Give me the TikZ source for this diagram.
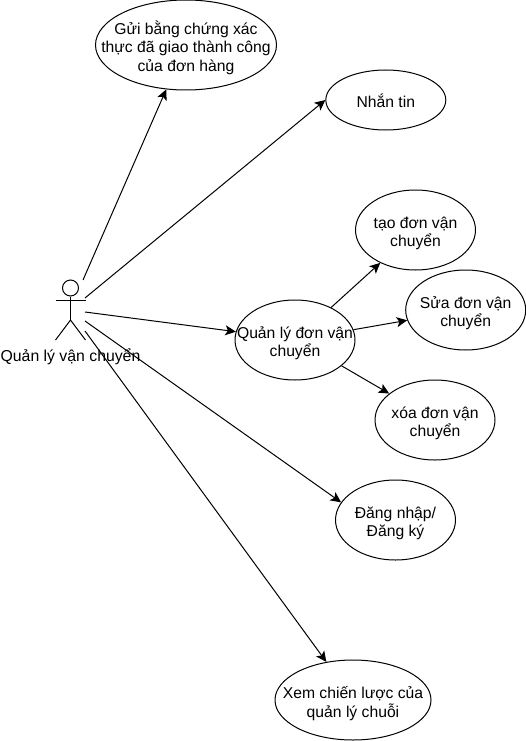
\documentclass[tikz,border=0pt]{standalone}
\usepackage{fontspec}
\setmainfont{Liberation Sans}
\usetikzlibrary{arrows.meta,shapes.geometric}
\newcommand\casetext[1]{\raisebox{-7.5pt}[0pt][0pt]{\begin{tabular}{@{}c@{}}#1\end{tabular}}}
\tikzset{
  every picture/.style={x=1pt,y=-1pt,line width=1pt},
  usecase/.style={draw=black,ellipse,inner xsep=-70pt,inner ysep=0pt,minimum width=120pt,minimum height=80pt,font=\fontsize{15.7pt}{18.4pt}\selectfont},
  link/.style={draw=black,-{Stealth[length=10.5pt,width=10pt,inset=2.5pt]}},
  stick/.style={draw=black,line width=1pt},
  actorlabel/.style={inner sep=0pt,font=\fontsize{15.8pt}{18.9pt}\selectfont}
}
\begin{document}
\begin{tikzpicture}
\useasboundingbox (0,0) rectangle (526,741);
\node[usecase,minimum width=181pt,minimum height=90pt] (proof) at (186,45) {\casetext{Gửi bằng chứng xác\\thực đã giao thành công\\của đơn hàng}};
\node[usecase,minimum height=60pt] (chat) at (385.8,100) {\casetext{Nhắn tin}};
\node[usecase] (create) at (415.5,230) {\casetext{tạo đơn vận\\chuyển}};
\node[usecase] (edit) at (465.7,310) {\casetext{Sửa đơn vận\\chuyển}};
\node[usecase] (manage) at (295,340) {\casetext{Quản lý đơn vận\\chuyển}};
\node[usecase] (remove) at (435,420) {\casetext{xóa đơn vận\\chuyển}};
\node[usecase] (login) at (395.5,520) {\casetext{Đăng nhập/\\Đăng ký}};
\node[usecase,minimum width=156pt] (strategy) at (353,700) {\casetext{Xem chiến lược của\\quản lý chuỗi}};
% actor
\node[draw=black,circle,minimum size=16pt,inner sep=0pt] (head) at (70.5,288) {};
\coordinate (hip) at (70.5,320);
\coordinate (armL) at (55.5,300);
\coordinate (armR) at (85.5,300);
\coordinate (legL) at (55.5,340);
\coordinate (legR) at (85.5,340);
\draw[stick] (head.south) -- (hip);
\draw[stick] (armL) -- (armR);
\draw[stick] (legL) -- (hip) -- (legR);
\node[actorlabel] (actorname) at (70.5,357) {Quản lý vận chuyển};
% free ends at the actor
\coordinate (s1) at (83,280);
\coordinate (s2) at (85,298);
\coordinate (s3) at (85,312);
\coordinate (s4) at (85,321);
\coordinate (s5) at (85,331);
\draw[link] (s1) -- (proof.246.8);
\draw[link] (s2) -- (chat.180);
\draw[link] (s3) -- (manage.172);
\draw[link] (s4) -- (login.162);
\draw[link] (s5) -- (strategy.125.5);
\draw[link] (manage.42) -- (create.223.7);
\draw[link] (manage.10.4) -- (edit.190.3);
\draw[link] (manage.-29.8) -- (remove.150.5);
\end{tikzpicture}
\end{document}
